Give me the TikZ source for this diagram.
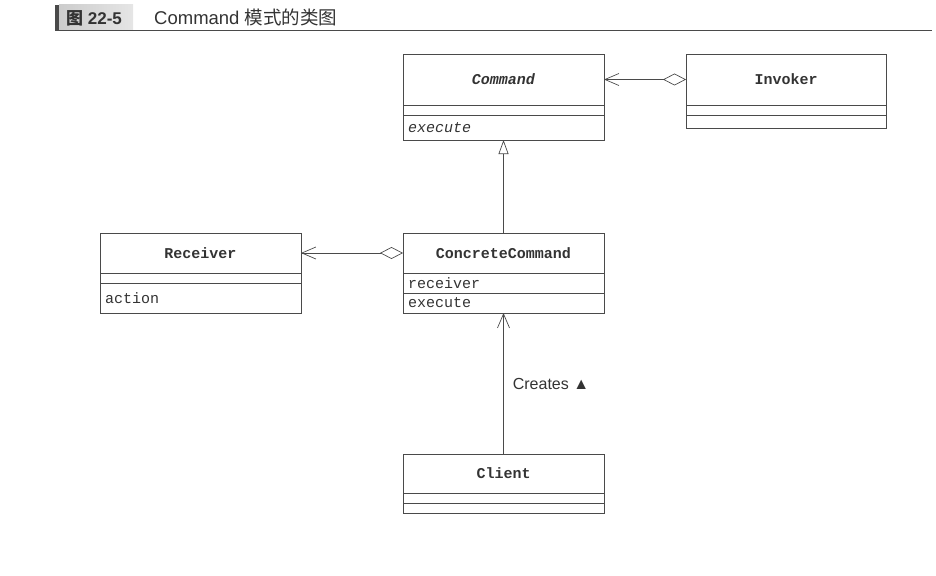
\documentclass[tikz,border=0pt]{standalone}
\usepackage{fontspec}
\setmainfont{Liberation Sans}
\setmonofont{Liberation Mono}
\newfontfamily\cjk{Noto Sans CJK SC}
\usetikzlibrary{arrows.meta}
\definecolor{ink}{HTML}{333333}
\definecolor{rule}{HTML}{4A4A4A}
\newcommand\umlfont{\fontsize{15}{18}\selectfont\ttfamily}
\tikzset{
  cname/.style={draw=rule, line width=0.7pt, outer sep=0pt, minimum width=201pt, text=ink, font=\umlfont\bfseries},
  cpart/.style={draw=rule, line width=0.7pt, outer sep=0pt, anchor=north, minimum width=201pt, text width=191pt, inner xsep=5pt, inner ysep=0pt, align=left, text=ink, font=\umlfont},
  aggr/.style={draw=rule, line width=0.7pt, {Diamond[open,length=23pt,width=12pt]}-{Straight Barb[length=14pt,width=12pt]}},
  inherit/.style={draw=rule, line width=0.7pt, -{Triangle[open,length=14pt,width=10pt]}},
  assoc/.style={draw=rule, line width=0.7pt, -{Straight Barb[length=14pt,width=12pt]}}
}
\begin{document}
\begin{tikzpicture}[x=1pt, y=-1pt]
  \useasboundingbox (0,0) rectangle (936,575);
  \fill[rule] (55,5) rectangle (59,30);
  \shade[left color=gray!40, right color=gray!20] (59,5) rectangle (133,30);
  \node[anchor=base west, inner sep=0pt, text=ink, font=\fontsize{17}{20}\selectfont\bfseries] (fignum) at (66,25) {{\cjk 图} 22-5};
  \node[anchor=base west, inner sep=0pt, text=ink, font=\fontsize{18.5}{21}\selectfont] (title) at (154,25) {Command {\cjk 模式的类图}};
  \draw[rule, line width=0.8pt] (55,30.5) -- (932,30.5);

  \node[cname, minimum height=51pt] (command) at (503.5,79.5) {\textit{Command}};
  \node[cpart, minimum height=10pt] (commandattr) at (command.south) {};
  \node[cpart, minimum height=25pt] (commandop) at (commandattr.south) {\textit{execute}};

  \node[cname, minimum height=51pt, minimum width=200pt] (invoker) at (786,79.5) {Invoker};
  \node[cpart, minimum height=10pt, minimum width=200pt, text width=190pt] (invokerattr) at (invoker.south) {};
  \node[cpart, minimum height=13pt, minimum width=200pt, text width=190pt] (invokerop) at (invokerattr.south) {};

  \node[cname, minimum height=40pt] (receiver) at (200.5,253) {Receiver};
  \node[cpart, minimum height=10pt] (receiverattr) at (receiver.south) {};
  \node[cpart, minimum height=30pt] (receiverop) at (receiverattr.south) {action};

  \node[cname, minimum height=40pt] (concrete) at (503.5,253) {ConcreteCommand};
  \node[cpart, minimum height=20pt] (concreteattr) at (concrete.south) {receiver};
  \node[cpart, minimum height=20pt] (concreteop) at (concreteattr.south) {execute};

  \node[cname, minimum height=39pt] (client) at (503.5,473.5) {Client};
  \node[cpart, minimum height=10pt] (clientattr) at (client.south) {};
  \node[cpart, minimum height=10pt] (clientop) at (clientattr.south) {};

  \draw[aggr] (invoker.west) -- (command.east);
  \draw[aggr] (concrete.west) -- (receiver.east);
  \draw[inherit] (concrete.north) -- (commandop.south);
  \draw[assoc] (client.north) -- node[right, inner sep=9pt, text=ink, font=\fontsize{16}{19}\selectfont] (creates) {Creates ▲} (concreteop.south);
\end{tikzpicture}
\end{document}
